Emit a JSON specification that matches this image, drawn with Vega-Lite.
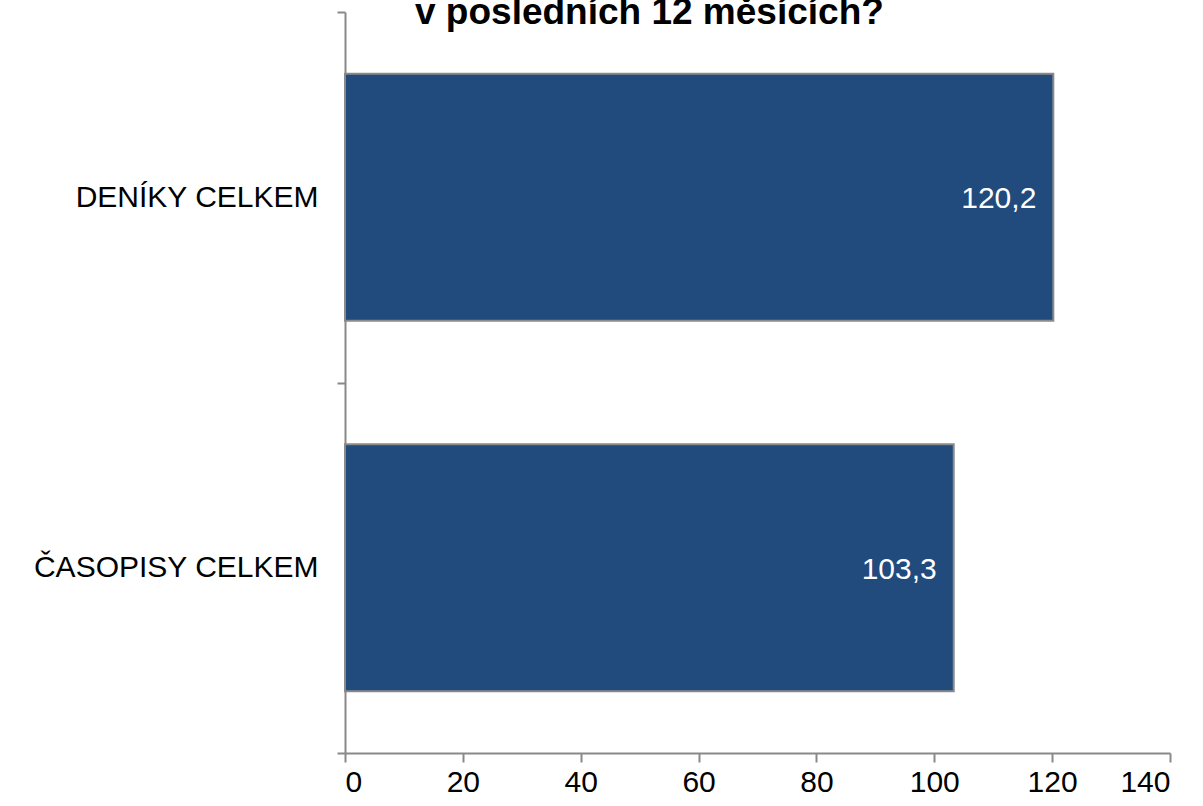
{
  "$schema": "https://vega.github.io/schema/vega-lite/v6.json",
  "width": 825,
  "height": 741,
  "autosize": {"type": "none"},
  "padding": {"left": 345, "top": 12, "right": 33, "bottom": 53},
  "background": "white",
  "config": {
    "view": {"stroke": null},
    "font": "Liberation Sans",
    "locale": {"number": {"decimal": ",", "thousands": " ", "grouping": [3], "currency": ["", " Kč"]}}
  },
  "title": {
    "text": "v posledních 12 měsících?",
    "font": "Liberation Sans",
    "fontSize": 37,
    "fontWeight": "bold",
    "color": "black",
    "anchor": "start",
    "frame": "group",
    "dx": 70,
    "baseline": "alphabetic",
    "dy": 68
  },
  "data": {
    "values": [
      {"kategorie": "DENÍKY CELKEM", "hodnota": 120.2},
      {"kategorie": "ČASOPISY CELKEM", "hodnota": 103.3}
    ]
  },
  "encoding": {
    "y": {
      "field": "kategorie",
      "type": "nominal",
      "sort": null,
      "scale": {"paddingInner": 0, "paddingOuter": 0},
      "axis": {
        "title": null,
        "tickBand": "extent",
        "domainColor": "#898989",
        "domainWidth": 2,
        "tickColor": "#898989",
        "tickWidth": 2,
        "tickSize": 8,
        "labelFontSize": 30,
        "labelLimit": 0,
        "labelColor": "black",
        "labelPadding": 19,
        "labelFont": "Liberation Sans"
      }
    },
    "x": {
      "field": "hodnota",
      "type": "quantitative",
      "scale": {"domain": [0, 140], "nice": false},
      "axis": {
        "title": null,
        "values": [0, 20, 40, 60, 80, 100, 120, 140],
        "grid": false,
        "domainColor": "#898989",
        "domainWidth": 2,
        "tickColor": "#898989",
        "tickWidth": 2,
        "tickSize": 9,
        "labelFontSize": 30,
        "labelColor": "black",
        "labelPadding": 5,
        "labelFont": "Liberation Sans"
      }
    }
  },
  "layer": [
    {"mark": {"type": "bar", "color": "#214a7d", "stroke": "#8a8a8a", "strokeWidth": 2, "height": {"band": 0.6667}}},
    {
      "mark": {"type": "text", "align": "right", "dx": -17, "dy": 2, "color": "white", "fontSize": 30, "font": "Liberation Sans"},
      "encoding": {"text": {"field": "hodnota", "type": "quantitative", "format": ".1f"}}
    }
  ]
}
